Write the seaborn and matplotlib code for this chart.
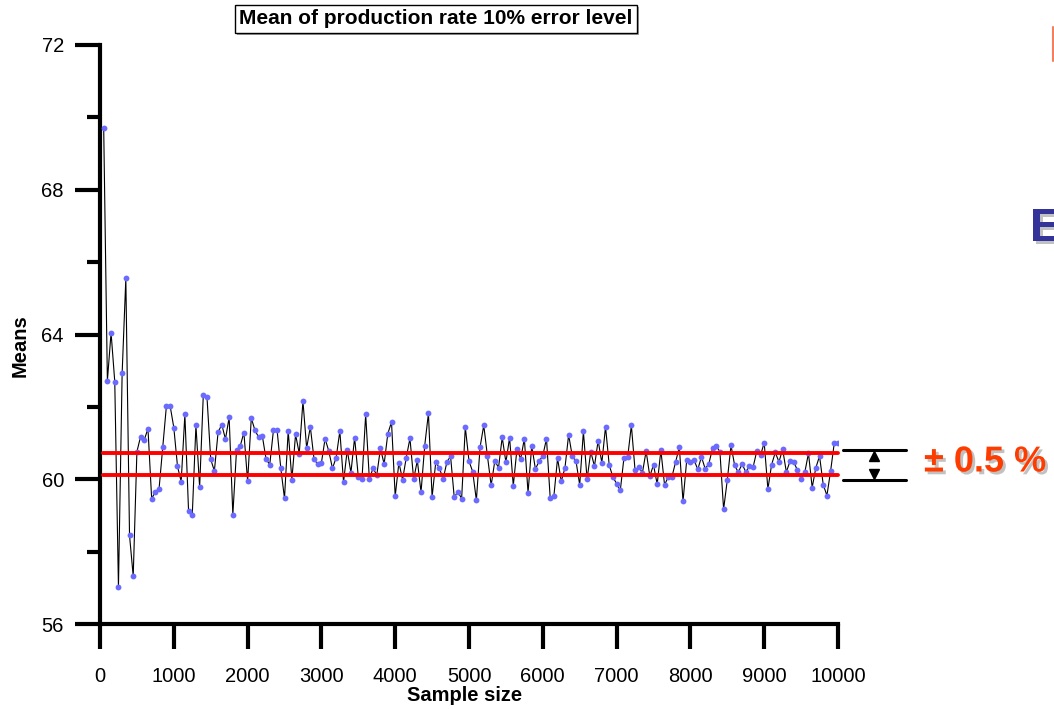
import numpy as np
import pandas as pd
import matplotlib
matplotlib.use("Agg")
import matplotlib.pyplot as plt
import matplotlib.patheffects as pe
from matplotlib.lines import Line2D
import seaborn as sns

# ---------------- data ----------------
sample_size = [50 * i for i in range(1, 201)]
means = [
    69.72, 62.72, 64.05, 62.70, 57.02, 62.93, 65.55, 58.45, 57.32, 60.76,
    61.18, 61.09, 61.40, 59.46, 59.66, 59.73, 60.88, 62.03, 62.03, 61.43,
    60.36, 59.93, 61.79, 59.12, 59.00, 61.49, 59.78, 62.34, 62.26, 60.55,
    60.23, 61.30, 61.51, 61.11, 61.71, 59.02, 60.81, 60.92, 61.29, 59.94,
    61.69, 61.35, 61.16, 61.19, 60.56, 60.40, 61.35, 61.35, 60.30, 59.47,
    61.34, 59.99, 61.24, 60.71, 62.16, 60.86, 61.45, 60.56, 60.41, 60.45,
    61.12, 60.78, 60.30, 60.60, 61.33, 59.92, 60.81, 60.18, 61.15, 60.07,
    60.00, 61.79, 60.00, 60.31, 60.11, 60.85, 60.42, 61.26, 61.58, 59.53,
    60.46, 59.99, 60.60, 61.13, 60.00, 60.52, 59.64, 60.93, 61.82, 59.51,
    60.48, 60.30, 60.01, 60.47, 60.64, 59.50, 59.66, 59.46, 61.44, 60.50,
    60.21, 59.42, 60.89, 61.49, 60.64, 59.83, 60.51, 60.32, 61.16, 60.47,
    61.15, 59.82, 60.84, 60.56, 61.12, 59.63, 60.93, 60.28, 60.50, 60.65,
    61.12, 59.49, 59.53, 60.58, 59.94, 60.31, 61.23, 60.63, 60.50, 59.84,
    61.32, 60.00, 60.76, 60.36, 61.07, 60.45, 61.45, 60.39, 60.06, 59.88,
    59.69, 60.60, 60.61, 61.49, 60.25, 60.34, 60.18, 60.78, 60.08, 60.40,
    59.86, 60.80, 59.84, 60.07, 60.07, 60.48, 60.89, 59.39, 60.53, 60.48,
    60.53, 60.27, 60.62, 60.29, 60.43, 60.85, 60.92, 60.76, 59.17, 59.98,
    60.94, 60.38, 60.19, 60.43, 60.20, 60.36, 60.34, 60.78, 60.66, 61.01,
    59.73, 60.40, 60.74, 60.48, 60.83, 60.20, 60.50, 60.48, 60.25, 60.02,
    60.19, 60.72, 59.77, 60.32, 60.64, 59.85, 59.55, 60.23, 61.01, 61.01,
]
band_levels = [60.12, 60.72]
x_ticks = [0, 1000, 2000, 3000, 4000, 5000, 6000, 7000, 8000, 9000, 10000]
y_major = [56, 60, 64, 68, 72]
y_minor = [58, 62, 66, 70]
title = "Mean of production rate 10% error level"
x_label = "Sample size"
y_label = "Means"
band_text = "± 0.5 %"

df = pd.DataFrame({"Sample size": sample_size, "Means": means})

# ---------------- style ----------------
sns.set_style("ticks")
plt.rcParams["font.family"] = ["Liberation Sans", "DejaVu Sans"]

W, H = 1054, 709
fig = plt.figure(figsize=(W / 100, H / 100), dpi=100)
ax = fig.add_axes([100 / W, 1 - 624 / H, 738 / W, (624 - 45) / H])

sns.lineplot(data=df, x="Sample size", y="Means", ax=ax, color="black",
             linewidth=0.8, marker="o", markersize=4.2,
             markerfacecolor="#6b6bff", markeredgecolor="none", zorder=3)

for lv in band_levels:
    ax.axhline(lv, xmin=0.004, xmax=1.0, color="#ff0000", linewidth=2.8,
               zorder=4, clip_on=False)

ax.set_xlim(0, 10000)
ax.set_ylim(56, 72)
ax.set_xticks(x_ticks)
ax.set_yticks(y_major)
ax.set_yticks(y_minor, minor=True)
ax.tick_params(axis="both", which="major", length=18, width=3, labelsize=14.5,
               color="black", labelcolor="black")
ax.tick_params(axis="y", which="major", pad=8)
ax.tick_params(axis="x", which="major", pad=13)
ax.tick_params(axis="y", which="minor", length=9.5, width=3, color="black")
ax.tick_params(axis="x", which="minor", length=0)
for s in ["top", "right"]:
    ax.spines[s].set_visible(False)
for s in ["left", "bottom"]:
    ax.spines[s].set_linewidth(3)
    ax.spines[s].set_color("black")
ax.grid(False)

ax.set_xlabel(x_label, fontsize=14.5, fontweight="bold", color="black")
ax.set_ylabel(y_label, fontsize=14.5, fontweight="bold", color="black")
ax.xaxis.set_label_coords((465 - 100) / 738, -(686 - 624) / 579)
ax.yaxis.set_label_coords(-(100 - 30) / 738, (624 - 346) / 579)

# title in a box with a shadow
t = fig.text(436 / W, 1 - 19 / H, title, ha="center", va="center",
             fontsize=15, fontweight="bold", color="black",
             bbox=dict(boxstyle="square,pad=0.2", fc="white", ec="black", lw=1))
t.get_bbox_patch().set_path_effects(
    [pe.SimplePatchShadow(offset=(1.5, -1.5), shadow_rgbFace="#888888", alpha=0.8),
     pe.Normal()])

# band annotation on the right
def fx(px):
    return px / W

def fy(py):
    return 1 - py / H

for py in (450, 480):
    fig.add_artist(Line2D([fx(843), fx(906)], [fy(py), fy(py)],
                          color="black", linewidth=2.2))
fig.add_artist(Line2D([fx(874)], [fy(456)], marker="^", color="black",
                      markersize=7, linestyle="none"))
fig.add_artist(Line2D([fx(874)], [fy(474)], marker="v", color="black",
                      markersize=7, linestyle="none"))

fig.text(fx(924), fy(462), band_text, ha="left", va="center", fontsize=26,
         fontweight="bold", color="#ff3c00",
         path_effects=[pe.SimplePatchShadow(offset=(2, -2), shadow_rgbFace="#999999",
                                            alpha=0.6), pe.Normal()])

# slide remnants at right edge
fig.text(fx(1030), fy(241), "E", ha="left", va="baseline", fontsize=34,
         fontweight="bold", color="#333399",
         path_effects=[pe.SimplePatchShadow(offset=(2, -2), shadow_rgbFace="#999999",
                                            alpha=0.6), pe.Normal()])
fig.add_artist(Line2D([fx(1053), fx(1053)], [fy(27), fy(61)],
                      color="#f08060", linewidth=1.5))

fig.savefig("out.png", dpi=100)
